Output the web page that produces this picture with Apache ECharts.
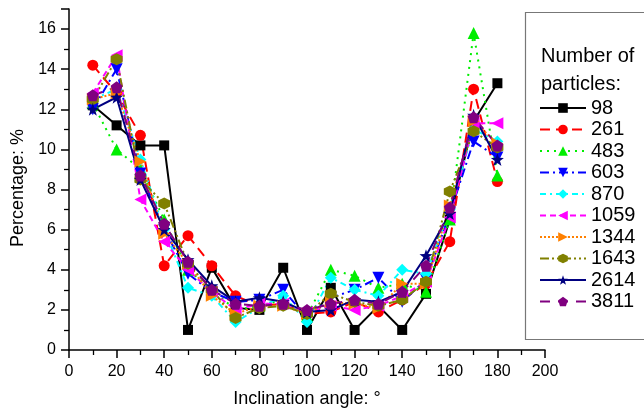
<!DOCTYPE html>
<html><head><meta charset="utf-8">
<script src="https://cdn.jsdelivr.net/npm/echarts@6/dist/echarts.min.js"></script>
<style>html,body{margin:0;padding:0;background:#fff}#c{width:644px;height:413px}</style>
</head><body><div id="c"></div>
<script>
const angles = [10,20,30,40,50,60,70,80,90,100,110,120,130,140,150,160,170,180];
const seriesNames = ['98','261','483','603','870','1059','1344','1643','2614','3811'];
const s98   = [12.2,11.2,10.2,10.2,1.0,4.1,2.1,2.0,4.1,1.0,3.1,1.0,2.2,1.0,2.8,6.5,11.4,13.3];
const s261  = [14.2,12.8,10.7,4.2,5.7,4.2,2.7,2.2,2.3,1.8,1.9,2.4,1.9,2.5,3.3,5.4,13.0,8.4];
const s483  = [12.3,10.0,9.0,6.5,4.0,3.0,2.0,2.2,2.5,1.7,4.0,3.7,3.1,3.3,2.9,6.5,15.8,8.7];
const s603  = [12.0,14.0,8.8,6.0,3.8,2.9,2.4,2.5,3.0,1.6,2.6,3.0,3.6,2.4,3.5,6.8,10.4,9.6];
const s870  = [12.5,13.0,9.5,6.0,3.1,2.7,1.4,2.1,2.7,1.4,3.6,3.0,2.7,4.0,3.8,7.0,11.0,10.4];
const s1059 = [12.8,14.7,7.5,5.4,4.0,2.9,2.0,2.3,2.3,1.9,2.2,2.0,2.2,2.7,3.4,6.6,11.3,11.3];
const s1344 = [12.5,12.8,9.4,5.8,4.3,2.7,1.8,2.2,2.2,1.8,2.4,2.3,2.1,3.3,3.3,7.2,11.4,10.3];
const s1643 = [12.5,14.5,8.5,7.3,4.3,3.0,1.6,2.1,2.2,1.8,2.8,2.4,2.2,2.5,3.4,7.9,10.9,10.1];
const s2614 = [12.0,12.6,8.5,6.0,4.5,3.2,2.4,2.6,2.4,1.9,2.0,2.5,2.4,2.9,4.7,6.8,11.7,9.5];
const s3811 = [12.7,13.1,8.7,6.3,4.4,3.0,2.3,2.2,2.3,2.0,2.3,2.5,2.3,2.9,4.2,7.1,11.6,10.2];
const allValues = [s98,s261,s483,s603,s870,s1059,s1344,s1643,s2614,s3811];
const xTicks = [0,20,40,60,80,100,120,140,160,180,200];
const yTicks = [0,2,4,6,8,10,12,14,16];

const colors = ['#000000','#ff0000','#00ee00','#0000ff','#00ffff','#ff00ff','#ff8000','#808000','#000080','#800080'];
const dashes = ['solid',[10,6],[2,5],[9,4,2,4],[6,4,2,4],[6,4],[2,2],[9,3,2,3,2,3],'solid',[10,8]];
const symbols = [
  'rect','circle','triangle',
  'path://M-10,-8 L10,-8 L0,9 Z',
  'diamond',
  'path://M-9,0 L8,-10 L8,10 Z',
  'path://M9,0 L-8,-10 L-8,10 Z',
  'path://M0,-10 L8.66,-5 L8.66,5 L0,10 L-8.66,5 L-8.66,-5 Z',
  'path://M0,-10 L2.35,-3.24 L9.51,-3.09 L3.8,1.24 L5.88,8.09 L0,4 L-5.88,8.09 L-3.8,1.24 L-9.51,-3.09 L-2.35,-3.24 Z',
  'path://M0,-10 L9.51,-3.09 L5.88,8.09 L-5.88,8.09 L-9.51,-3.09 Z'
];
const sizes = [10,11,12,12,12,12,12,12,13,12];

const series = seriesNames.map((n,i)=>({
  name:n, type:'line',
  data: angles.map((a,j)=>[a, allValues[i][j]]),
  symbol: symbols[i], symbolSize: sizes[i],
  itemStyle:{color:colors[i]},
  lineStyle:{color:colors[i], width:2, type:dashes[i]},
  emphasis:{disabled:true}
}));

const chart = echarts.init(document.getElementById('c'));
chart.setOption({
  animation:false,
  backgroundColor:'#fff',
  textStyle:{fontFamily:'Liberation Sans, Arial'},
  grid:{left:69, right:99, top:9, bottom:60},
  xAxis:{type:'value', min:0, max:200, interval:20,
    axisLine:{lineStyle:{color:'#000', width:1.5}},
    axisTick:{length:8, lineStyle:{color:'#000', width:1.5}},
    minorTick:{show:true, splitNumber:2, length:5, lineStyle:{color:'#000', width:1.3}},
    splitLine:{show:false},
    axisLabel:{color:'#000', fontSize:16, margin:14, formatter:v=>xTicks.includes(v)?String(v):''},
    name:'Inclination angle: °', nameLocation:'middle', nameGap:40,
    nameTextStyle:{color:'#000', fontSize:18}
  },
  yAxis:{type:'value', min:0, max:17, interval:2,
    axisLine:{show:true, lineStyle:{color:'#000', width:1.5}},
    axisTick:{show:true, length:8, lineStyle:{color:'#000', width:1.5}},
    minorTick:{show:true, splitNumber:2, length:5, lineStyle:{color:'#000', width:1.3}},
    splitLine:{show:false},
    axisLabel:{color:'#000', fontSize:16, margin:13, showMaxLabel:false, formatter:v=>yTicks.includes(v)?String(v):''},
    name:'', nameLocation:'middle'
  },
  legend:{
    data:seriesNames, orient:'vertical', left:539, top:98, padding:0,
    itemWidth:46, itemHeight:12, itemGap:1.5,
    textStyle:{color:'#000', fontSize:20}
  },
  graphic:[
    {type:'rect', left:523, top:10, shape:{width:130, height:327}, style:{fill:'none', stroke:'#777', lineWidth:1.2}, z:-1},
    {type:'text', left:541, top:42, style:{text:'Number of\nparticles:', fill:'#000', font:'20px Liberation Sans, Arial', lineHeight:28}},
    {type:'text', x:18, y:188, rotation:Math.PI/2, style:{text:'Percentage: %', fill:'#000', font:'18px Liberation Sans, Arial', align:'center', verticalAlign:'middle'}}
  ],
  series:series
});
</script></body></html>
